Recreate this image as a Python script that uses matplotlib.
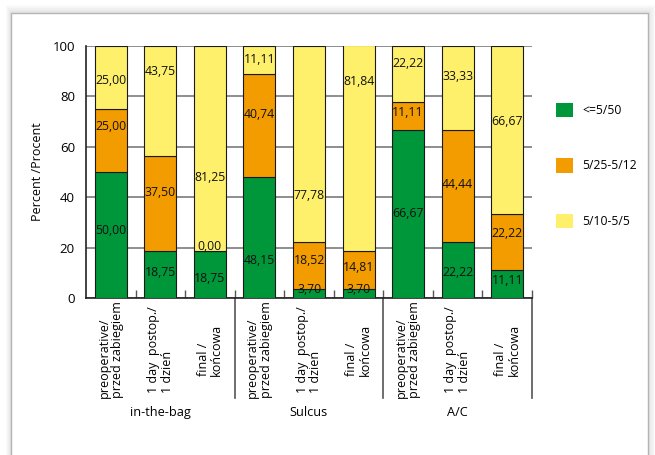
import numpy as np
import matplotlib.pyplot as plt
from matplotlib.patches import Rectangle, Patch
from matplotlib.lines import Line2D

plt.rcParams['font.family'] = ['Open Sans', 'DejaVu Sans']
plt.rcParams['font.size'] = 8

groups = ['in-the-bag', 'Sulcus', 'A/C']
stages = ['preoperative/\nprzed zabiegiem', '1 day  postop./\n1 dzień', 'final /\nkońcowa']
series = ['<=5/50', '5/25-5/12', '5/10-5/5']
colors = ['#00963a', '#f39c00', '#fff06b']

low = [50.00, 18.75, 18.75, 48.15, 3.70, 3.70, 66.67, 22.22, 11.11]
mid = [25.00, 37.50, 0.00, 40.74, 18.52, 14.81, 11.11, 44.44, 22.22]
high = [25.00, 43.75, 81.25, 11.11, 77.78, 81.84, 22.22, 33.33, 66.67]

# where each value label sits (y, in percent)
label_y = [
    [26.6, 10.3, 7.9, 15.0, 3.2, 3.2, 33.7, 10.0, 7.1],
    [67.9, 42.0, 20.6, 73.0, 15.0, 12.3, 73.8, 45.0, 25.4],
    [86.5, 89.7, 48.0, 94.8, 40.5, 86.0, 92.9, 88.0, 70.0],
]

fig = plt.figure(figsize=(6.55, 4.55), dpi=100)

# card with soft shadow behind the chart
for i, a in enumerate([0.035, 0.035, 0.04, 0.045, 0.05]):
    d = (5 - i) * 1.6
    fig.patches.append(Rectangle((11 - d * 0.6, -20), 637 + d * 1.6, 462 + d,
                                 transform=None, facecolor='#808080', alpha=a,
                                 edgecolor='none', zorder=-3))
fig.patches.append(Rectangle((11, -20), 637, 462, transform=None,
                             facecolor='white', edgecolor='#b4b4b4', lw=1.0, zorder=-2))

ax = fig.add_axes([86 / 655, 1 - 298 / 455, 446 / 655, 252 / 455])
ax.set_facecolor('none')

x = np.arange(len(low))
stack = [low, mid, high]
bottom = np.zeros(len(low))
for vals, c in zip(stack, colors):
    ax.bar(x, vals, 0.645, bottom=bottom, color=c, edgecolor='#1a1a1a',
           linewidth=0.8, zorder=3)
    bottom += np.array(vals)

for vals, ys in zip(stack, label_y):
    for xi, v, y in zip(x, vals, ys):
        ax.text(xi, y, f'{v:.2f}'.replace('.', ','), ha='center', va='center',
                fontsize=8.8, color='#111111', zorder=4)

ax.set_xlim(-0.5, len(low) - 0.5)
ax.set_ylim(0, 100)
ax.set_yticks([0, 20, 40, 60, 80, 100])
ax.yaxis.grid(True, color='#858585', linewidth=1.3, zorder=0)
ax.set_axisbelow(True)
ax.tick_params(axis='y', length=0, pad=8, labelsize=9.5)
ax.set_ylabel('Percent /Procent', fontsize=9, labelpad=6)

ax.set_xticks([])
ax.set_xticks(np.arange(0.5, len(low) - 0.5 + 0.01, 1.0), minor=True)
ax.tick_params(axis='x', which='minor', direction='in', length=6,
               width=1.0, color='#555555', labelbottom=False)

for s in ['top', 'right']:
    ax.spines[s].set_visible(False)
ax.spines['left'].set_color('#222222')
ax.spines['bottom'].set_color('#222222')
ax.spines['left'].set_linewidth(1.2)
ax.spines['bottom'].set_linewidth(1.2)

# stage labels and group separators below the axis
for gi, g in enumerate(groups):
    for si, s in enumerate(stages):
        xi = gi * 3 + si
        ax.text(xi, -0.206, s, rotation=90, ha='center', va='center',
                multialignment='left', fontsize=9, linespacing=1.05,
                transform=ax.get_xaxis_transform(), clip_on=False)
    ax.text(gi * 3 + 1, -0.456, g, ha='center', va='center', fontsize=9.2,
            transform=ax.get_xaxis_transform(), clip_on=False)
    xs = gi * 3 + 2.5
    ax.add_line(Line2D([xs, xs], [0, -0.397], color='#555555', linewidth=1.2,
                       transform=ax.get_xaxis_transform(), clip_on=False))

handles = [Patch(facecolor=c, edgecolor='none') for c in colors]
fig.legend(handles, series, loc='upper left', bbox_to_anchor=(545 / 655, 1 - 92 / 455),
           frameon=False, handlelength=1.45, handleheight=1.45, handletextpad=0.75,
           labelspacing=3.4, fontsize=8.7)

fig.savefig('out.png', dpi=100)
